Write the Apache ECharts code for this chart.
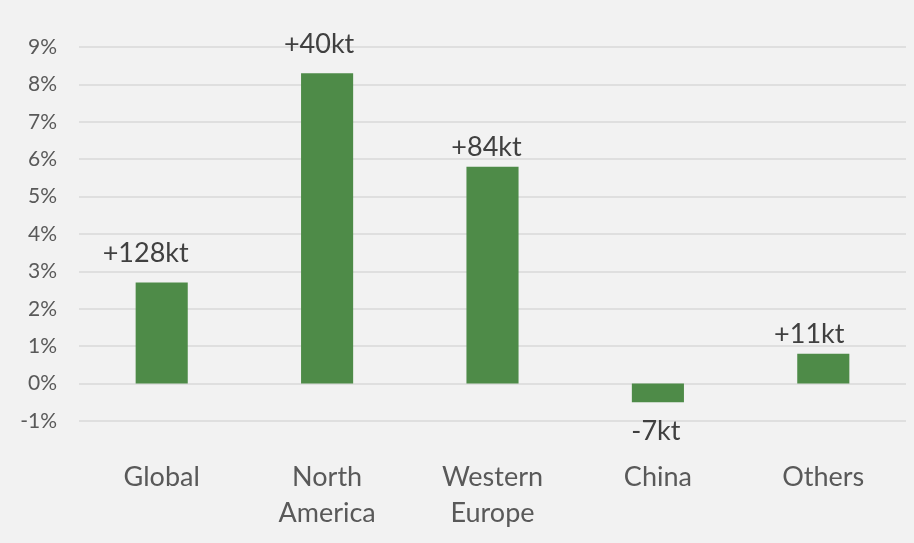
<!DOCTYPE html>
<html><head><meta charset="utf-8">
<script src="https://cdn.jsdelivr.net/npm/echarts@6/dist/echarts.min.js"></script>
<style>html,body{margin:0;padding:0;background:#f2f2f2}#c{width:914px;height:543px}</style>
</head><body><div id="c"></div>
<script>
const categories = ['Global', 'North\nAmerica', 'Western\nEurope', 'China', 'Others'];
const growthPct = [2.7, 8.3, 5.8, -0.5, 0.8];
const volumeLabels = ['+128kt', '+40kt', '+84kt', '-7kt', '+11kt'];
const yTicks = { min: -1, max: 9, interval: 1 };
// style only: manual label nudges as placed in the original chart
const labelNudge = [[-16, -10], [-8, -9], [-6, 0], [-2, 9], [-14, 0]];

const font = 'Lato, "Liberation Sans", sans-serif';
const chart = echarts.init(document.getElementById('c'), null, { renderer: 'canvas' });
chart.setOption({
  backgroundColor: '#f2f2f2',
  animation: false,
  grid: { left: 79, right: 8, top: 47, bottom: 122 },
  xAxis: {
    type: 'category',
    data: categories,
    axisLine: { show: false },
    axisTick: { show: false },
    axisLabel: { color: '#595959', fontFamily: font, fontSize: 27, lineHeight: 36, margin: 38 }
  },
  yAxis: {
    type: 'value',
    min: yTicks.min, max: yTicks.max, interval: yTicks.interval,
    axisLine: { show: false },
    axisTick: { show: false },
    splitLine: { lineStyle: { color: '#d9d9d9', width: 1.5 } },
    axisLabel: { color: '#595959', fontFamily: font, fontSize: 21, margin: 22, formatter: '{value}%' }
  },
  series: [{
    type: 'bar',
    barWidth: '31.5%',
    itemStyle: { color: '#4e8b48' },
    data: growthPct.map((v, i) => ({
      value: v,
      label: {
        show: true,
        position: v < 0 ? 'bottom' : 'top',
        distance: 6,
        offset: labelNudge[i],
        formatter: volumeLabels[i],
        color: '#404040',
        fontFamily: font,
        fontSize: 27
      }
    }))
  }]
});
</script></body></html>
